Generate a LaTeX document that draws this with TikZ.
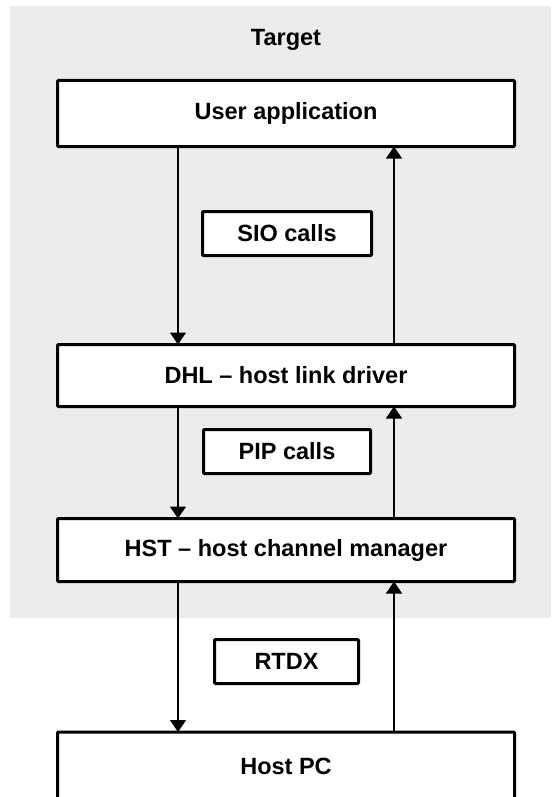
\documentclass[tikz,border=0pt]{standalone}
\usepackage{fontspec}
\setmainfont{Liberation Sans}
\usetikzlibrary{arrows.meta}
\definecolor{panel}{RGB}{236,236,236}
\tikzset{
  every node/.style={font=\fontsize{23.5}{28}\selectfont\bfseries, inner sep=0pt, outer sep=0pt},
  layer/.style={draw=black, fill=white, line width=3pt, rounded corners=1pt,
    minimum width=457pt, anchor=center},
  callbox/.style={draw=black, fill=white, line width=3pt, rounded corners=1pt,
    minimum height=44pt, anchor=center},
  flow/.style={line width=1.1pt, -{Triangle[length=12pt,width=16pt]}}
}
\begin{document}
\begin{tikzpicture}[x=1pt,y=-1pt]
\useasboundingbox (0,0) rectangle (551,797);
\clip (0,0) rectangle (551,797);
% target panel
\fill[panel] (10,6) rectangle (551,618);
\node (title) at (286,40) {Target};
% software layers
\node[layer, minimum height=66pt] (app) at (286,113.5) {User application};
\node[layer, minimum height=62pt] (dhl) at (286,375.5) {DHL -- host link driver};
\node[layer, minimum height=63pt] (hst) at (286,550) {HST -- host channel manager};
\node[layer, minimum height=68pt] (pc) at (286,766) {Host PC};
% interface labels
\node[callbox, minimum width=169pt] (sio) at (287,233.5) {SIO calls};
\node[callbox, minimum width=167pt] (pip) at (287,451.5) {PIP calls};
\node[callbox, minimum width=144pt] (rtdx) at (286.5,661.5) {RTDX};
% connector columns
\coordinate (dn) at (178,0);
\coordinate (up) at (394,0);
\draw[flow] (app.south -| dn) -- (dhl.north -| dn);
\draw[flow] (dhl.north -| up) -- (app.south -| up);
\draw[flow] (dhl.south -| dn) -- (hst.north -| dn);
\draw[flow] (hst.north -| up) -- (dhl.south -| up);
\draw[flow] (hst.south -| dn) -- (pc.north -| dn);
\draw[flow] (pc.north -| up) -- (hst.south -| up);
\end{tikzpicture}
\end{document}
